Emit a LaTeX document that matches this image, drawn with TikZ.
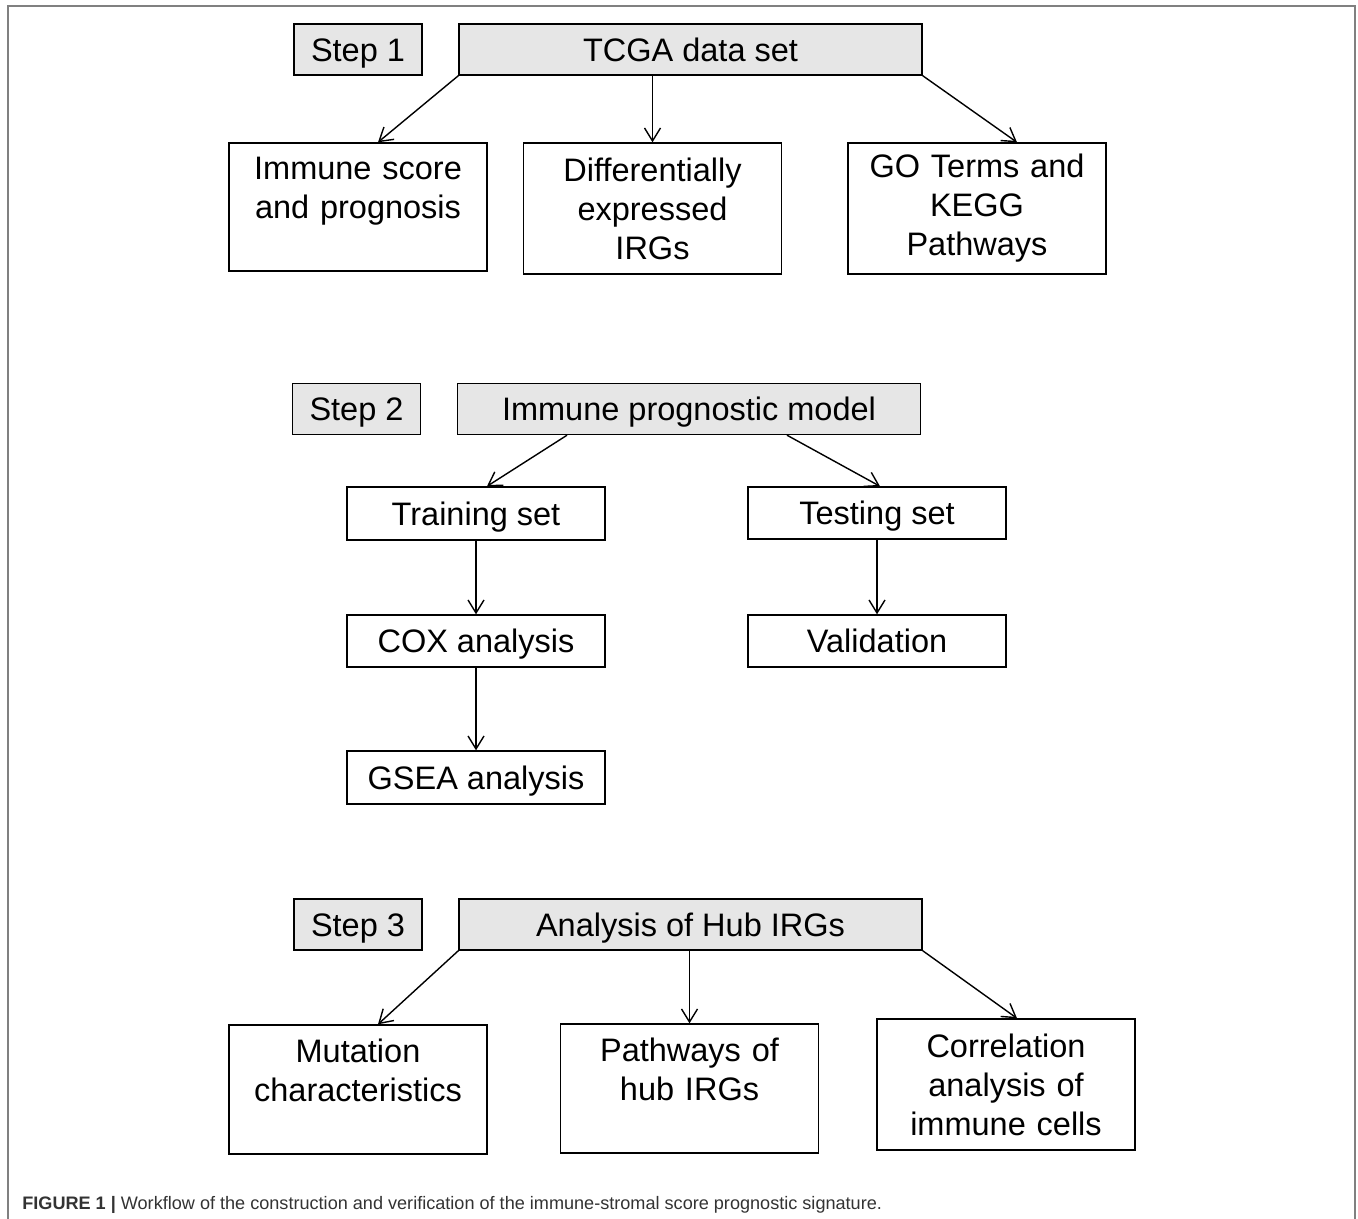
\documentclass[tikz,border=0pt]{standalone}
\usepackage{fontspec}
\setmainfont{Liberation Sans}
\usepackage{tikz}
\usetikzlibrary{shapes, arrows, arrows.meta, calc}
\definecolor{headgray}{HTML}{E6E6E6}
\definecolor{framegray}{HTML}{808080}
\definecolor{captiongray}{HTML}{333333}
\tikzstyle{line} = [draw, line width=0.8pt, -{Straight Barb[length=0.26cm, width=0.32cm, line width=0.8pt]}]
\tikzstyle{box} = [rectangle, draw, line width=0.8pt, inner sep=0pt, minimum width=5.16cm, text width=5cm, align=center, font=\fontsize{18.5}{22.2}\selectfont]
\tikzstyle{smallbox} = [rectangle, draw, line width=0.8pt, inner sep=0pt, minimum width=5.16cm, text height=13.3pt, text depth=0pt, font=\fontsize{18.5}{22.2}\selectfont]
\tikzstyle{stepbox} = [smallbox, fill=headgray, minimum width=2.56cm, minimum height=1.02cm]
\tikzstyle{headbox} = [stepbox, minimum width=9.26cm]

\begin{document}
\begin{tikzpicture}[x=0.02cm, y=-0.02cm]
	
	\useasboundingbox (0,0) rectangle (1358,1219);
	\draw [framegray, line width=1.2pt] (8,1219) -- (8,6) -- (1355,6) -- (1355,1219);
	
	% step 1
	\node [stepbox] (step1) at (358,49.5) {Step 1};
	\node [headbox] (tcga) at (690.5,49.5) {TCGA data set};
	
	\node [box, minimum height=2.56cm] (score) at (358,207) {Immune score\\and prognosis\\~};
	\node [box, minimum height=2.62cm] (deg) at (652.5,208.5) {Differentially\\expressed\\IRGs};
	\node [box, minimum height=2.62cm] (go) at (977,208.5) {GO Terms and\\KEGG\\Pathways};
	
	\path [line] (tcga.south west) -- ([xshift=0.4cm]score.north);
	\path [line] (tcga.south -| deg.north) -- (deg.north);
	\path [line] (tcga.south east) -- ([xshift=0.8cm]go.north);
	
	% step 2
	\node [stepbox] (step2) at (356.5,409) {Step 2};
	\node [headbox] (model) at (689,409) {Immune prognostic model};
	
	\node [smallbox, minimum height=1.06cm] (train) at (476,513.5) {Training set};
	\node [smallbox, minimum height=1.04cm] (test) at (877,513) {Testing set};
	\node [smallbox, minimum height=1.04cm] (cox) at (476,641) {COX analysis};
	\node [smallbox, minimum height=1.04cm] (valid) at (877,641) {Validation};
	\node [smallbox, minimum height=1.06cm] (gsea) at (476,777.5) {GSEA analysis};
	
	\path [line] ([xshift=-2.44cm]model.south) -- ([xshift=0.22cm]train.north);
	\path [line] ([xshift=1.96cm]model.south) -- ([xshift=0.06cm]test.north);
	\path [line] (train.south) -- (cox.north);
	\path [line] (cox.south) -- (gsea.north);
	\path [line] (test.south) -- (valid.north);
	
	% step 3
	\node [stepbox] (step3) at (358,924.5) {Step 3};
	\node [headbox] (hub) at (690.5,924.5) {Analysis of Hub IRGs};
	
	\node [box, minimum height=2.58cm] (mut) at (358,1089.5) {Mutation\\characteristics\\~};
	\node [box, minimum height=2.58cm] (hubpath) at (689.5,1088.5) {Pathways of\\hub IRGs\\~};
	\node [box, minimum height=2.62cm] (corr) at (1006,1084.5) {Correlation\\analysis of\\immune cells};
	
	\path [line] (hub.south west) -- ([xshift=0.4cm]mut.north);
	\path [line] (hub.south -| hubpath.north) -- (hubpath.north);
	\path [line] (hub.south east) -- ([xshift=0.22cm]corr.north);
	
	% caption
	\node [anchor=base west, inner sep=0pt, text=captiongray, font=\fontsize{10.3}{12}\selectfont] (caption) at (22,1209)
	{\textbf{FIGURE 1 |} Workflow of the construction and verification of the immune-stromal score prognostic signature.};
	
\end{tikzpicture}
\end{document}
